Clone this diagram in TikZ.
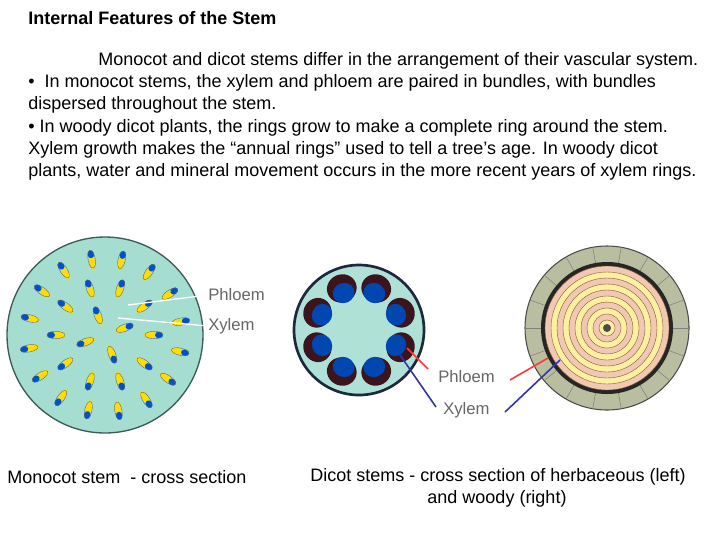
\documentclass[tikz,border=0pt]{standalone}
\usepackage{fontspec}
\setmainfont{Liberation Sans}
\definecolor{monoc}{RGB}{165,222,208}
\definecolor{monob}{RGB}{60,90,90}
\definecolor{herbc}{RGB}{175,225,215}
\definecolor{herbb}{RGB}{30,40,60}
\definecolor{phl}{RGB}{60,20,30}
\definecolor{bark}{RGB}{185,190,160}
\definecolor{ringp}{RGB}{240,200,180}
\definecolor{ringy}{RGB}{250,240,160}
\begin{document}
\begin{tikzpicture}[x=0.75pt,y=-0.75pt,
  txt/.style={anchor=west,inner sep=0pt,font=\fontsize{13.5}{16}\selectfont},
  lbl/.style={inner sep=0pt,font=\fontsize{12.5}{14}\selectfont,text=black!60}]
\useasboundingbox (0,0) rectangle (720,540);
\node[txt,font=\bfseries\fontsize{13.5}{16}\selectfont] (title) at (28,18) {Internal Features of the Stem};
\node[txt] (l1) at (98,61) {Monocot and dicot stems differ in the arrangement of their vascular system.};
\node[txt] (l2) at (28,83) {\textbullet\ \ In monocot stems, the xylem and phloem are paired in bundles, with bundles};
\node[txt] (l3) at (28,105) {dispersed throughout the stem.};
\node[txt] (l4) at (28,128) {\textbullet\ In woody dicot plants, the rings grow to make a complete ring around the stem.};
\node[txt] (l5) at (28,150) {Xylem growth makes the “annual rings” used to tell a tree’s age. In woody dicot};
\node[txt] (l6) at (28,172) {plants, water and mineral movement occurs in the more recent years of xylem rings.};
% monocot
\fill[fill=monoc,draw=monob,line width=1pt] (105,335) circle (98);
\foreach \r/\n/\o in {20/4/20,48/10/0,76/16/10}{
  \foreach \i in {1,...,\n}{
    \pgfmathsetmacro\a{\o+360*\i/\n}
    \begin{scope}[shift={(105,335)},rotate=\a]
      \fill[yellow!80!orange] (\r-2,0) ellipse (7 and 3.3);
      \fill[blue!60!cyan!80!black] (\r+6,0) ellipse (4 and 3.3);
      \draw[black!60,line width=0.3pt] (\r+1,0) ellipse (9 and 3.6);
    \end{scope}}}
\node[lbl,anchor=west] (mph) at (208,295) {Phloem};
\node[lbl,anchor=west] (mxy) at (208,326) {Xylem};
\coordinate (mb1) at (128,305);
\coordinate (mb2) at (118,318);
\draw[white,line width=1pt] (mb1) -- (mph.west);
\draw[white,line width=1pt] (mb2) -- (mxy.west);
% herbaceous dicot
\fill[fill=herbc,draw=herbb,line width=2pt] (359,330) circle (65);
\foreach \i in {0,...,7}{
  \pgfmathsetmacro\a{22.5+45*\i}
  \begin{scope}[shift={(359,330)},rotate=\a]
    \fill[phl] (45,0) ellipse (14 and 15);
    \fill[blue!60!cyan!70!black] (40,0) ellipse (10 and 11);
  \end{scope}}
\node[lbl,anchor=west] (dph) at (438,377) {Phloem};
\node[lbl,anchor=west] (dxy) at (443,410) {Xylem};
\coordinate (hp) at (407,348);
\coordinate (hx) at (400,355);
\draw[red!70!pink,line width=1.2pt] (hp) -- (428,369);
\draw[blue!60!black!80,line width=1.2pt] (hx) -- (436,407);
% woody
\fill[fill=bark,draw=black!70,line width=0.8pt] (607,328) circle (82);
\foreach \a in {0,20,...,340}{\draw[black!50] (607,328) ++(\a:66) -- ++(\a:16);}
\fill[black!85] (607,328) circle (66);
\foreach \r [count=\k] in {62,56,...,8}{
  \ifodd\k \fill[ringp] (607,328) circle (\r);
  \else \fill[ringy] (607,328) circle (\r); \fi
  \draw[brown!70!black,line width=0.3pt] (607,328) circle (\r);}
\fill[black!70] (607,328) circle (4);
\coordinate (wp) at (548,358);
\coordinate (wx) at (560,360);
\draw[red!70!pink,line width=1.2pt] (wp) -- (510,380);
\draw[blue!60!black!80,line width=1.2pt] (wx) -- (505,412);
% captions
\node[txt] (c1) at (7,477) {Monocot stem \ - cross section};
\node[inner sep=0pt,font=\fontsize{13.5}{16}\selectfont] (c2) at (498,477) {Dicot stems - cross section of herbaceous (left)};
\node[inner sep=0pt,font=\fontsize{13.5}{16}\selectfont] (c3) at (497,499) {and woody (right)};
\end{tikzpicture}
\end{document}
